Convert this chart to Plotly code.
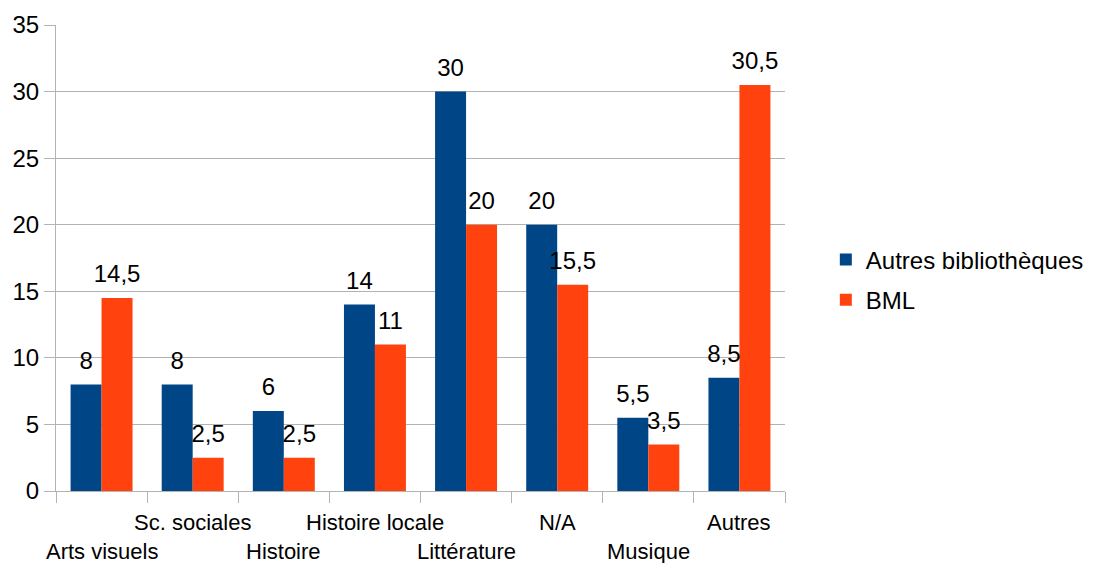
import plotly.graph_objects as go

categories = ["Arts visuels", "Sc. sociales", "Histoire", "Histoire locale",
              "Littérature", "N/A", "Musique", "Autres"]
autres_biblio = [8, 8, 6, 14, 30, 20, 5.5, 8.5]
bml = [14.5, 2.5, 2.5, 11, 20, 15.5, 3.5, 30.5]
series_names = ["Autres bibliothèques", "BML"]
y_ticks = [0, 5, 10, 15, 20, 25, 30, 35]

BLUE = "#004586"
ORANGE = "#ff420e"
GRID = "#b3b3b3"
FONT = "Liberation Sans, Arial, sans-serif"


def fmt(v):
    return (str(int(v)) if float(v).is_integer() else str(v)).replace(".", ",")


fig = go.Figure()
for name, vals, col in [(series_names[0], autres_biblio, BLUE), (series_names[1], bml, ORANGE)]:
    fig.add_trace(go.Bar(
        x=categories, y=vals, name=name, marker_color=col, marker_line_width=0,
        legendgroup=name,
    ))
# value labels, grouped like the bars
for name, vals in [(series_names[0], autres_biblio), (series_names[1], bml)]:
    fig.add_trace(go.Scatter(
        x=categories, y=vals, mode="markers+text", showlegend=False,
        marker=dict(size=14, opacity=0), text=[fmt(v) for v in vals],
        textposition="top center", cliponaxis=False, hoverinfo="skip",
        textfont=dict(size=24, color="black", family=FONT),
    ))

for i, c in enumerate(categories):
    fig.add_annotation(
        x=c, y=0, xref="x", yref="paper", text=c, showarrow=False,
        yanchor="middle", yshift=-60 if i % 2 == 0 else -31,
        font=dict(size=22, color="black", family=FONT),
    )

fig.update_layout(
    width=1101, height=563,
    margin=dict(l=56, r=316, t=25, b=72),
    plot_bgcolor="white", paper_bgcolor="white",
    barmode="group", bargap=0.32, bargroupgap=0,
    scattermode="group", scattergap=0.32,
    font=dict(family=FONT, color="black"),
    legend=dict(x=1.056, y=0.453, xanchor="left", yanchor="middle",
                font=dict(size=24, family=FONT), bgcolor="rgba(0,0,0,0)",
                tracegroupgap=6),
    xaxis=dict(range=[-0.5, len(categories) - 0.5], autorange=False,
               showticklabels=False, ticks="outside", tickson="boundaries",
               ticklen=11, tickcolor=GRID, showline=True, linecolor=GRID,
               showgrid=False),
    yaxis=dict(range=[0, 35], tickvals=y_ticks, ticks="outside", ticklen=11,
               tickcolor=GRID, showline=True, linecolor=GRID, showgrid=True,
               gridcolor=GRID, zeroline=False,
               tickfont=dict(size=24, family=FONT)),
)

fig.write_html("out.html")
